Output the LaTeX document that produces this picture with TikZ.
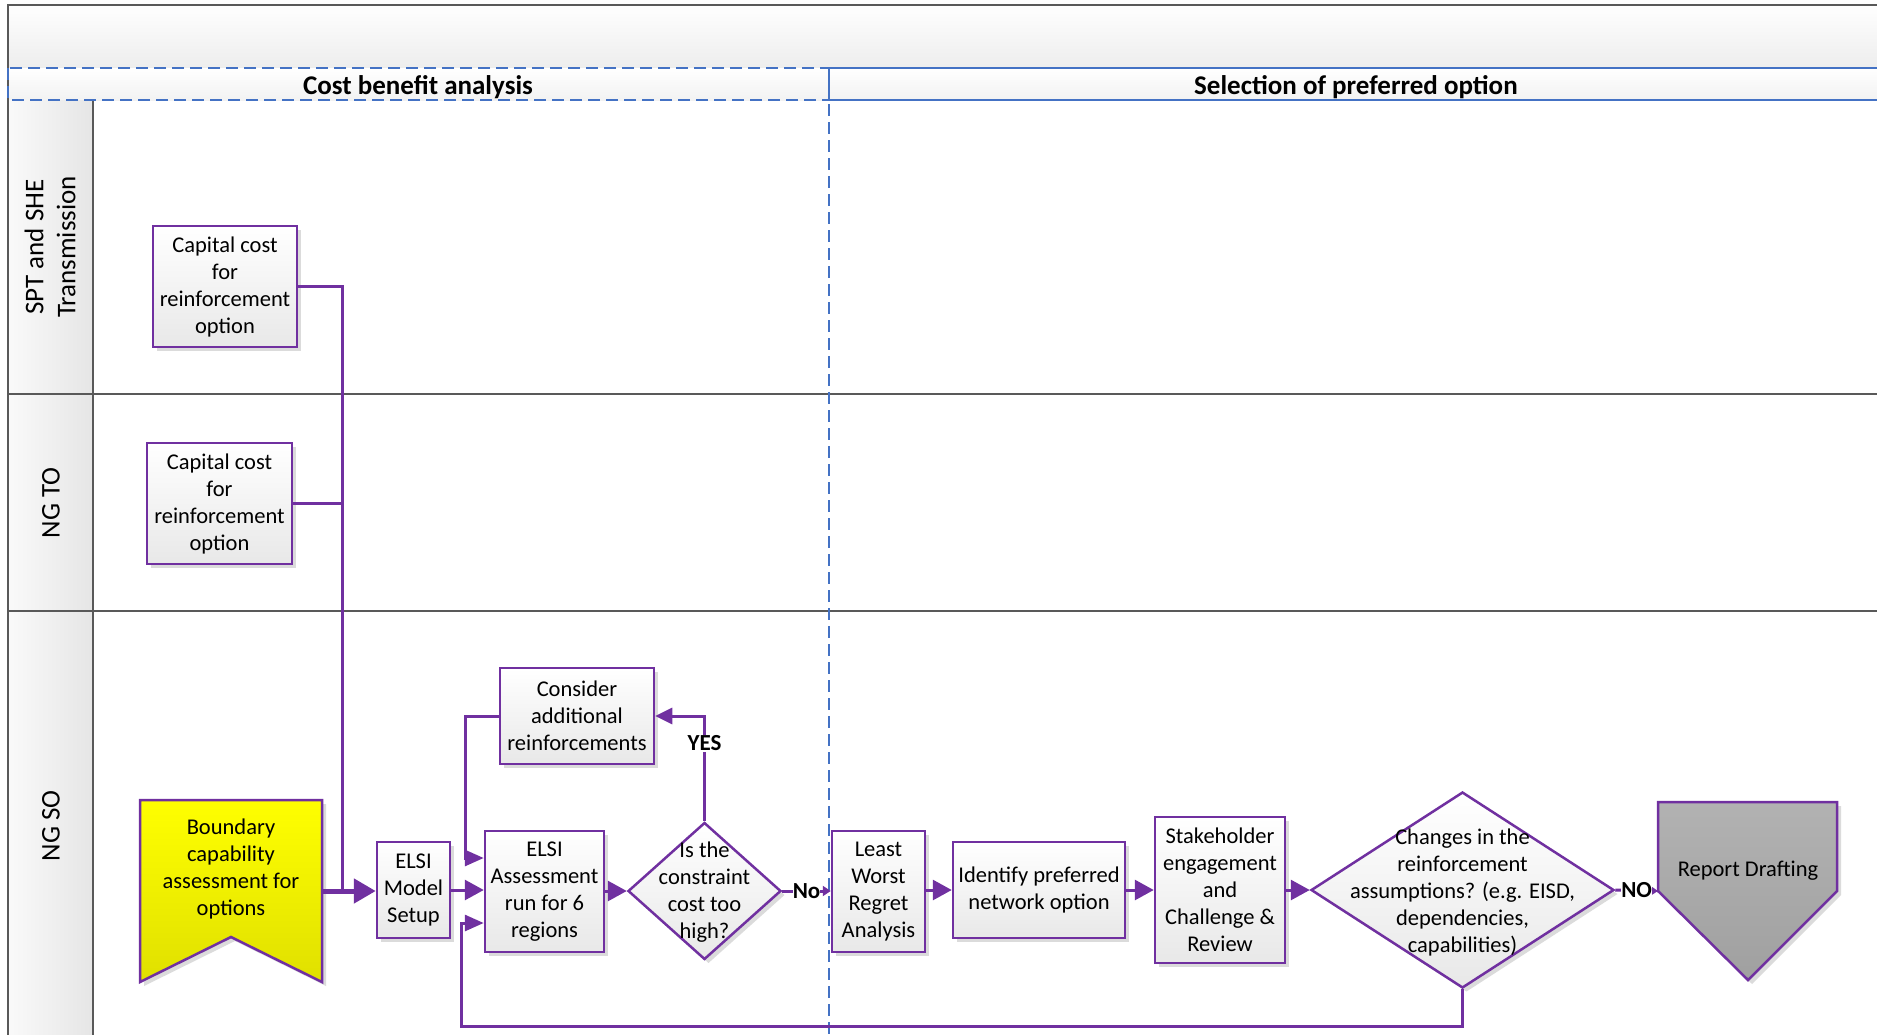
\documentclass[tikz,border=0pt]{standalone}
\usepackage{fontspec}
\setmainfont{Carlito}
\usetikzlibrary{arrows.meta,shapes.geometric,shadows,calc}
\definecolor{pur}{HTML}{7030A0}
\definecolor{bl}{HTML}{4472C4}
\definecolor{fr}{HTML}{595959}
\begin{document}
\begin{tikzpicture}[x=1pt,y=-1pt,
  txt/.style={font=\fontsize{22.5}{27}\selectfont, align=center},
  shad/.style={drop shadow={shadow xshift=4pt, shadow yshift=-4pt, fill=black!14, opacity=1}},
  box/.style={draw=pur, line width=2.5pt, top color=white, bottom color=black!9, txt, inner sep=0pt, shad},
  flow/.style={draw=pur, line width=3pt},
  arr/.style={flow, -{Triangle[length=19pt,width=20pt]}},
  sarr/.style={flow, -{Triangle[length=8pt,width=10pt]}},
  lab/.style={font=\fontsize{23}{27}\selectfont\bfseries, fill=white, inner sep=1pt},
  lane/.style={draw=fr, line width=2pt},
  phase/.style={draw=bl, line width=1.5pt},
  phdash/.style={phase, dash pattern=on 12pt off 6pt},
  lanelab/.style={font=\fontsize{27}{32}\selectfont, align=center, rotate=90},
  head/.style={font=\fontsize{27}{30}\selectfont\bfseries}
]
\useasboundingbox (0,0) rectangle (1877,1034);
\clip (0,0) rectangle (1877,1034);
% header band and phase row
\fill[top color=white, bottom color=black!7] (8,4.5) rectangle (1895,68);
\fill[top color=white, bottom color=black!5] (8,68) rectangle (1895,100);
% lane label column
\fill[left color=black!2, right color=black!10] (8,100) rectangle (93,1040);
% frame
\draw[lane] (8,1040) -- (8,4.5) -- (1895,4.5);
\draw[lane] (93,100) -- (93,1040);
\draw[lane] (8,394) -- (1895,394);
\draw[lane] (8,611) -- (1895,611);
% phases
\draw[phdash] (8,68) rectangle (829,100);
\draw[phase] (829,68) -- (1895,68);
\draw[phase] (829,100) -- (1895,100);
\draw[phdash] (829,68) -- (829,1040);
\node[head] (ph1) at (418,87) {Cost benefit analysis};
\node[head] (ph2) at (1356,87) {Selection of preferred option};
% lane labels
\node[lanelab] (l1) at (50,247) {SPT and SHE\\Transmission};
\node[lanelab] (l2) at (51,503) {NG TO};
\node[lanelab] (l3) at (51,826) {NG SO};
% boxes
\node[box, minimum width=144, minimum height=121] (cap1) at (225,286.5) {Capital cost\\for\\reinforcement\\option};
\node[box, minimum width=145, minimum height=121] (cap2) at (219.5,503.5) {Capital cost\\for\\reinforcement\\option};
\node[minimum width=182, minimum height=182, inner sep=0pt, outer sep=0pt] (bound) at (231,891) {};
\draw[draw=pur, line width=2.5pt, top color=yellow, bottom color={rgb,255:red,224;green,224;blue,0}, shad]
  (bound.north west) -- (bound.north east) -- (bound.south east) -- ($(bound.south)+(0,-45)$) -- (bound.south west) -- cycle;
\node[txt] (boundtxt) at (231,869) {Boundary\\capability\\assessment for\\options};
\node[box, minimum width=73, minimum height=96] (setup) at (413.5,890) {ELSI\\Model\\Setup};
\node[box, minimum width=119, minimum height=121] (assess) at (544.5,891.5) {ELSI\\Assessment\\run for 6\\regions};
\node[diamond, draw=pur, line width=2.5pt, top color=white, bottom color=black!9, shad, minimum width=153, minimum height=137, inner sep=0pt] (dia1) at (704.5,891) {};
\node[txt] (dia1t) at (704.5,892) {Is the\\constraint\\cost too\\high?};
\node[box, minimum width=154, minimum height=96] (consider) at (577,716) {Consider\\additional\\reinforcements};
\node[box, minimum width=93, minimum height=121] (lwr) at (878.5,891.5) {Least\\Worst\\Regret\\Analysis};
\node[box, minimum width=172, minimum height=96] (ident) at (1039,890) {Identify preferred\\network option};
\node[box, minimum width=130, minimum height=146] (stake) at (1220,890) {Stakeholder\\engagement\\and\\Challenge \&\\Review};
\node[diamond, draw=pur, line width=2.5pt, top color=white, bottom color=black!9, shad, minimum width=303, minimum height=196, inner sep=0pt] (dia2) at (1462.5,890) {};
\node[txt] (dia2t) at (1462.5,892) {Changes in the\\reinforcement\\assumptions? (e.g. EISD,\\dependencies,\\capabilities)};
% report drafting pentagon
\coordinate (rep) at (1658,891);
\draw[draw=pur, line width=2.5pt, top color={rgb,255:red,178;green,178;blue,178}, bottom color={rgb,255:red,160;green,160;blue,160}, shad]
  (1658,802) -- (1837,802) -- (1837,891) -- (1748,980) -- (rep) -- cycle;
\node[txt] (reptxt) at (1748,871) {Report Drafting};
% connectors
\coordinate (jn) at (342,891);
\draw[flow] (cap1.east) -| (jn);
\draw[flow] (cap2.east) -- (cap2.east -| jn);
\draw[draw=pur, line width=5pt, -{Triangle[length=22pt,width=24pt]}] (bound.east) -- (setup.west |- bound.east);
\draw[arr] (setup.east) -- (setup.east -| assess.west);
\draw[arr] (assess.east |- dia1.west) -- (dia1.west);
\draw[flow, -{Triangle[length=17pt,width=16pt]}] (dia1.north) |- node[lab, pos=0.37] (yes) {YES} (consider.east);
\coordinate (c1) at (465,858);
\draw[flow, -{Triangle[length=19pt,width=16pt]}] (consider.west) -| (c1) -- (assess.west |- c1);
\draw[sarr] (dia1.east) -- node[lab, inner sep=0pt] (no1) {No} (lwr.west |- dia1.east);
\draw[arr] (lwr.east |- ident.west) -- (ident.west);
\draw[arr] (ident.east) -- (stake.west);
\draw[arr] (stake.east) -- (dia2.west);
\draw[sarr] (dia2.east) -- node[lab, inner sep=0pt] (no2) {NO} (rep);
\coordinate (lb) at (461,1026);
\coordinate (le) at (461,923);
\draw[flow, -{Triangle[length=19pt,width=16pt]}] (dia2.south) |- (lb) -- (le) -- (assess.west |- le);
\end{tikzpicture}
\end{document}
